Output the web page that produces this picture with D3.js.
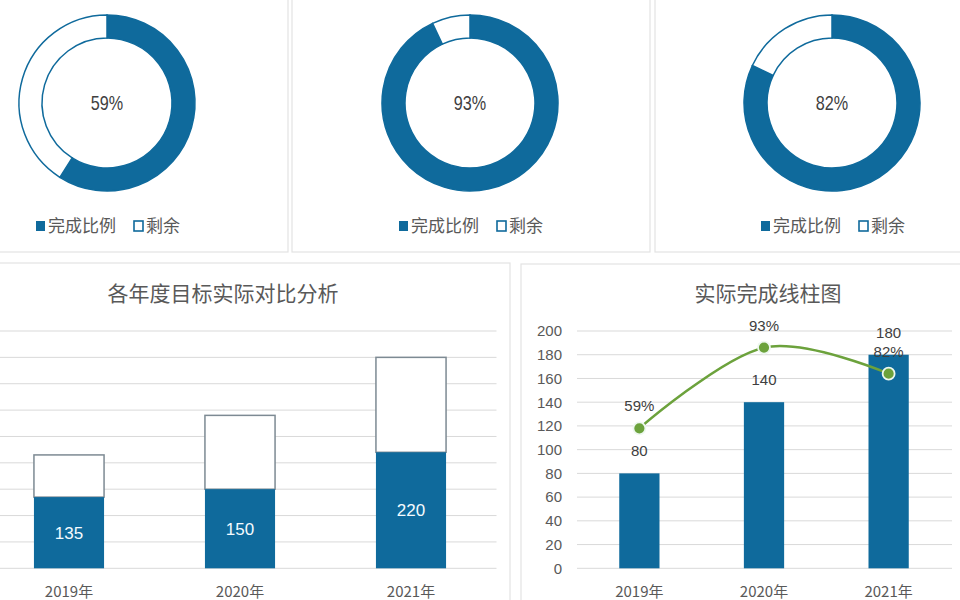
<!DOCTYPE html>
<html>
<head>
<meta charset="utf-8">
<script src="https://cdn.jsdelivr.net/npm/d3@7"></script>
<style>
  html, body { margin: 0; padding: 0; background: #ffffff; }
  svg { display: block; }
  text { font-family: "Liberation Sans", Arial, "Noto Sans CJK SC", sans-serif; }
  .cjk { font-family: "Noto Sans CJK SC", "Liberation Sans", sans-serif; }
</style>
</head>
<body>
<svg id="chart" width="960" height="600"></svg>
<script>
// ---------------- data ----------------
const years = ["2019年", "2020年", "2021年"];
const target = [135, 150, 220];          // 目标 (blue, bottom of stacked bars)
const actual = [80, 140, 180];           // 实际 (outlined, stacked on top; columns on the right)
const rate = [0.59, 0.93, 0.82];         // 完成比例
const legendLabels = ["完成比例", "剩余"];
const leftTitle = "各年度目标实际对比分析";
const rightTitle = "实际完成线柱图";
const leftTicks = [0, 50, 100, 150, 200, 250, 300, 350, 400, 450];
const rightTicks = [0, 20, 40, 60, 80, 100, 120, 140, 160, 180, 200];

// ---------------- style ----------------
const BLUE = "#0f6a9c";
const GREEN = "#6ca23c";
const GRID = "#d9d9d9";
const BORDER = "#e3e3e3";
const TXT = "#595959";
const TXT_DARK = "#404040";

const svg = d3.select("#chart");

// ---------------- panels ----------------
const panels = [
  {x: -2, y: -2, w: 290, h: 254},
  {x: 292, y: -2, w: 358, h: 254},
  {x: 655, y: -2, w: 307, h: 254},
  {x: -2, y: 263, w: 512, h: 339},
  {x: 521, y: 264, w: 441, h: 338}
];
svg.append("g").selectAll("rect").data(panels).join("rect")
  .attr("x", d => d.x).attr("y", d => d.y)
  .attr("width", d => d.w).attr("height", d => d.h)
  .attr("fill", "#fff").attr("stroke", BORDER).attr("stroke-width", 1.2);

// ---------------- donuts ----------------
const donutCenters = [[107, 103], [470, 103], [832, 103]];
const pie = d3.pie().sort(null).value(d => d.v);
const arc = d3.arc().innerRadius(65).outerRadius(88);
const pct = d3.format(".0%");

rate.forEach((r, i) => {
  const g = svg.append("g").attr("transform", `translate(${donutCenters[i][0]},${donutCenters[i][1]})`);
  const parts = [{k: 0, v: r}, {k: 1, v: 1 - r}];
  g.selectAll("path").data(pie(parts)).join("path")
    .attr("d", arc)
    .attr("fill", d => d.data.k === 0 ? BLUE : "#fff")
    .attr("stroke", BLUE)
    .attr("stroke-width", 1.5);
  g.append("text")
    .attr("text-anchor", "middle").attr("dy", "0.35em")
    .attr("font-size", 18).attr("fill", TXT_DARK)
    .attr("transform", "scale(0.9,1.1)")
    .text(pct(r));

  // legend
  const lg = svg.append("g");
  let x = 0;
  legendLabels.forEach((lab, j) => {
    if (j > 0) x += 18;
    lg.append("rect").attr("x", x).attr("y", -5).attr("width", 9).attr("height", 10)
      .attr("fill", j === 0 ? BLUE : "#fff").attr("stroke", BLUE).attr("stroke-width", j === 0 ? 0 : 1.6);
    x += 12;
    const t = lg.append("text").attr("class", "cjk").attr("x", x).attr("dy", "0.36em")
      .attr("font-size", 17).attr("fill", TXT).text(lab);
    x += t.node().getComputedTextLength();
  });
  lg.attr("transform", `translate(${donutCenters[i][0] - x / 2 + 1},226)`);
});

// ---------------- left: stacked columns ----------------
const yBase = 568.3, yTop = 331;
const xL = d3.scaleBand().domain(years).range([-16.5, 496.5]).paddingInner(0.59).paddingOuter(0.295);
const yL = d3.scaleLinear().domain([0, 450]).range([yBase, yTop]);

const left = svg.append("g");
left.append("text").attr("class", "cjk").attr("x", 223).attr("y", 301)
  .attr("text-anchor", "middle").attr("font-size", 21).attr("fill", TXT).text(leftTitle);

left.append("g").selectAll("line").data(leftTicks).join("line")
  .attr("x1", -16.5).attr("x2", 496.5)
  .attr("y1", d => yL(d)).attr("y2", d => yL(d))
  .attr("stroke", GRID).attr("stroke-width", 1);

// outlined actual on top of target
left.append("g").selectAll("rect").data(years).join("rect")
  .attr("x", d => xL(d)).attr("width", xL.bandwidth())
  .attr("y", (d, i) => yL(target[i] + actual[i]))
  .attr("height", (d, i) => yL(target[i]) - yL(target[i] + actual[i]))
  .attr("fill", "#fff").attr("stroke", "#7d8a93").attr("stroke-width", 1.5);
left.append("g").selectAll("rect").data(years).join("rect")
  .attr("x", d => xL(d)).attr("width", xL.bandwidth())
  .attr("y", (d, i) => yL(target[i]))
  .attr("height", (d, i) => yL(0) - yL(target[i]))
  .attr("fill", BLUE);
left.append("g").selectAll("text").data(years).join("text")
  .attr("x", d => xL(d) + xL.bandwidth() / 2)
  .attr("y", (d, i) => (yL(target[i]) + yL(0)) / 2)
  .attr("dy", "0.36em").attr("text-anchor", "middle")
  .attr("font-size", 17).attr("fill", "#f4fbff")
  .text((d, i) => target[i]);

const axL = d3.axisBottom(xL).tickSize(0).tickPadding(0);
const axLg = left.append("g").attr("transform", `translate(0,${yBase})`).call(axL);
axLg.select(".domain").remove();
axLg.selectAll("text").attr("class", "cjk").attr("font-size", 15).attr("fill", TXT).attr("dy", 0).attr("y", 29);

// ---------------- right: columns + line ----------------
const xR = d3.scaleBand().domain(years).range([577, 951]).paddingInner(0.677).paddingOuter(0.339);
const yR = d3.scaleLinear().domain([0, 200]).range([yBase, yTop]);
const yP = d3.scaleLinear().domain([0, 1]).range([yBase, yTop]);

const right = svg.append("g");
right.append("text").attr("class", "cjk").attr("x", 768).attr("y", 301)
  .attr("text-anchor", "middle").attr("font-size", 21).attr("fill", TXT).text(rightTitle);

right.append("g").selectAll("line").data(rightTicks).join("line")
  .attr("x1", 577).attr("x2", 952)
  .attr("y1", d => yR(d)).attr("y2", d => yR(d))
  .attr("stroke", GRID).attr("stroke-width", 1);

const ayR = d3.axisLeft(yR).tickValues(rightTicks).tickSize(0).tickPadding(0);
const ayRg = right.append("g").attr("transform", "translate(562,0)").call(ayR);
ayRg.select(".domain").remove();
ayRg.selectAll("text").attr("font-size", 15).attr("fill", TXT);

right.append("g").selectAll("rect").data(years).join("rect")
  .attr("x", d => xR(d)).attr("width", xR.bandwidth())
  .attr("y", (d, i) => yR(actual[i]))
  .attr("height", (d, i) => yR(0) - yR(actual[i]))
  .attr("fill", BLUE);
right.append("g").selectAll("text").data(years).join("text")
  .attr("x", d => xR(d) + xR.bandwidth() / 2)
  .attr("y", (d, i) => yR(actual[i]) - 17)
  .attr("text-anchor", "middle").attr("font-size", 15).attr("fill", TXT_DARK)
  .text((d, i) => actual[i]);

const line = d3.line()
  .x((d, i) => xR(years[i]) + xR.bandwidth() / 2)
  .y(d => yP(d))
  .curve(d3.curveCatmullRom.alpha(0));
right.append("path").datum(rate).attr("d", line)
  .attr("fill", "none").attr("stroke", GREEN).attr("stroke-width", 2.5);
right.append("g").selectAll("circle").data(rate).join("circle")
  .attr("cx", (d, i) => xR(years[i]) + xR.bandwidth() / 2)
  .attr("cy", d => yP(d)).attr("r", 6)
  .attr("fill", GREEN).attr("stroke", "#eef8f0").attr("stroke-width", 1.8);
right.append("g").selectAll("text").data(rate).join("text")
  .attr("x", (d, i) => xR(years[i]) + xR.bandwidth() / 2)
  .attr("y", d => yP(d) - 17)
  .attr("text-anchor", "middle").attr("font-size", 15).attr("fill", TXT_DARK)
  .text(d => pct(d));

const axR = d3.axisBottom(xR).tickSize(0).tickPadding(0);
const axRg = right.append("g").attr("transform", `translate(0,${yBase})`).call(axR);
axRg.select(".domain").remove();
axRg.selectAll("text").attr("class", "cjk").attr("font-size", 15).attr("fill", TXT).attr("dy", 0).attr("y", 29);
</script>
</body>
</html>
